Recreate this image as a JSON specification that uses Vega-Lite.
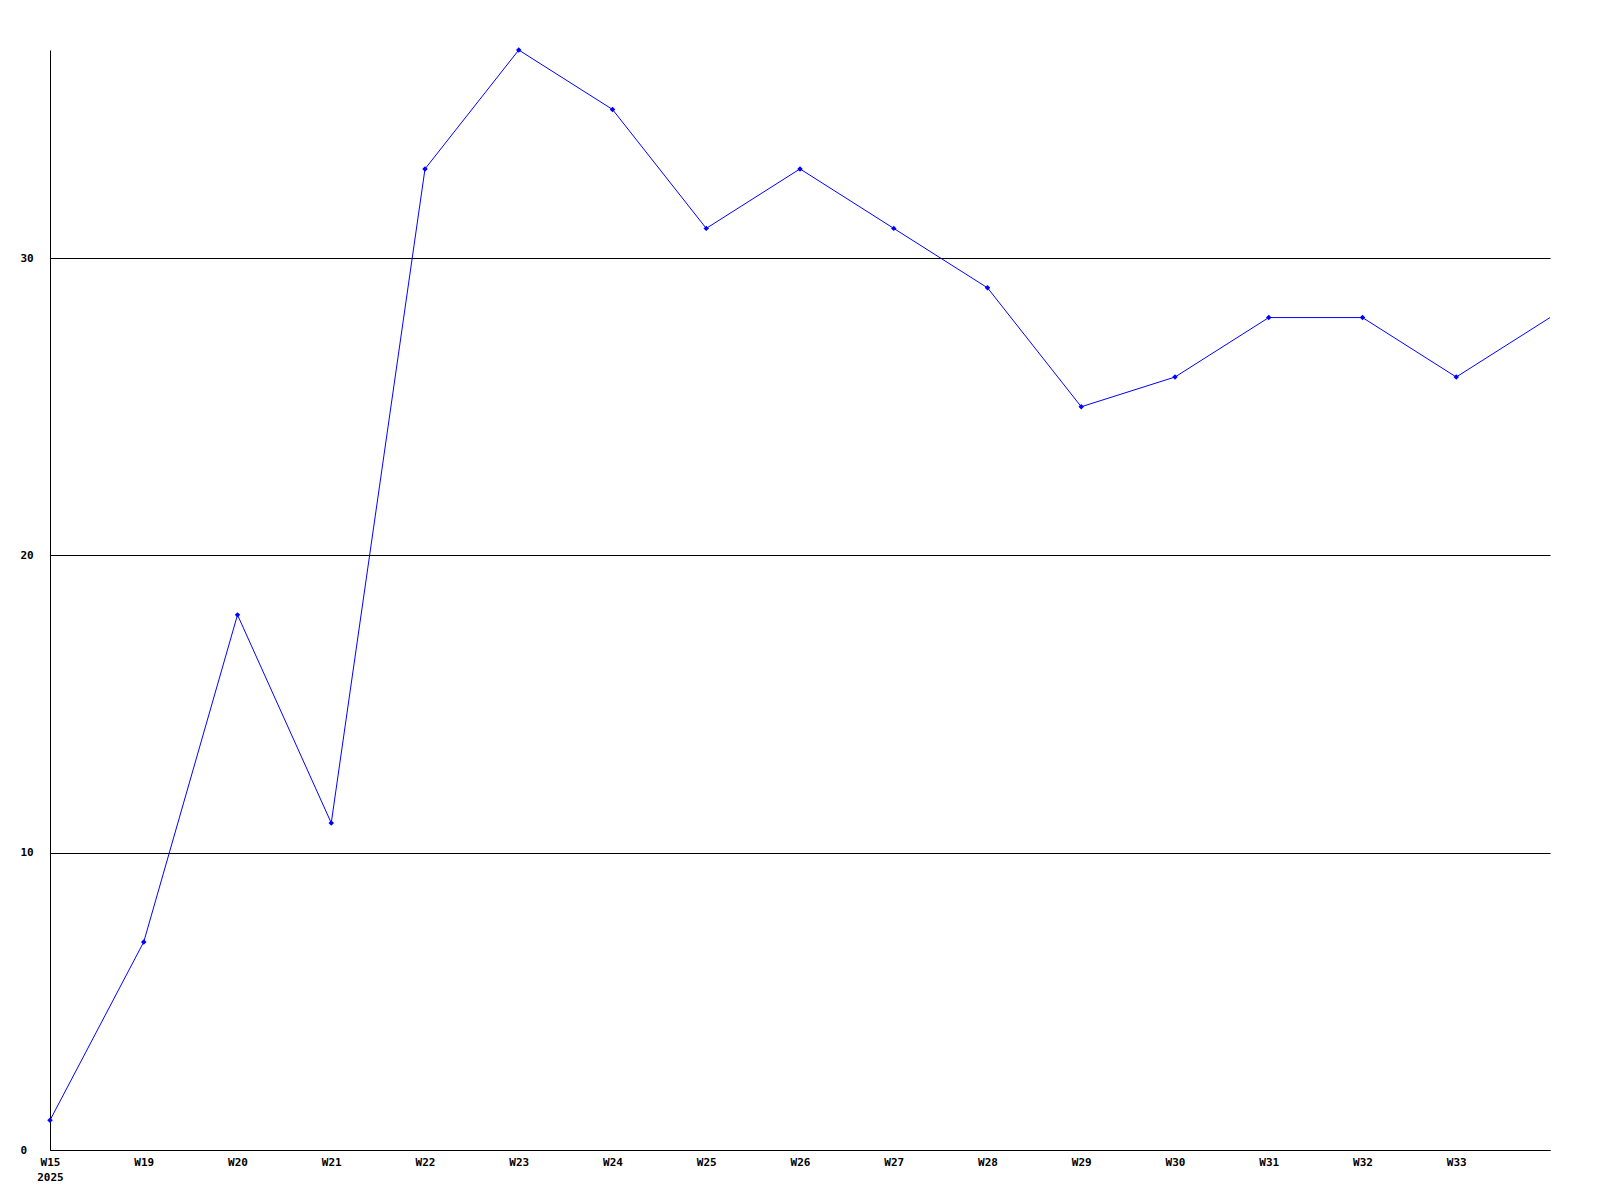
{
  "$schema": "https://vega.github.io/schema/vega-lite/v6.json",
  "width": 1500,
  "height": 1100,
  "autosize": {"type": "none"},
  "padding": {"left": 50, "top": 50, "right": 50, "bottom": 50},
  "background": "white",
  "config": {"view": {"stroke": null}},
  "data": {"values": [
    {"week": "W15", "value": 1},
    {"week": "W19", "value": 7},
    {"week": "W20", "value": 18},
    {"week": "W21", "value": 11},
    {"week": "W22", "value": 33},
    {"week": "W23", "value": 37},
    {"week": "W24", "value": 35},
    {"week": "W25", "value": 31},
    {"week": "W26", "value": 33},
    {"week": "W27", "value": 31},
    {"week": "W28", "value": 29},
    {"week": "W29", "value": 25},
    {"week": "W30", "value": 26},
    {"week": "W31", "value": 28},
    {"week": "W32", "value": 28},
    {"week": "W33", "value": 26},
    {"week": "W34", "value": 28}
  ]},
  "encoding": {
    "x": {"field": "week", "type": "ordinal", "sort": null,
      "scale": {"type": "point", "padding": 0},
      "axis": {"title": null, "grid": false, "ticks": false, "tickSize": 0, "labelAngle": 0,
        "labelExpr": "datum.value == 'W34' ? '' : (datum.value == 'W15' ? ['W15', '2025'] : datum.value)",
        "labelFont": "DejaVu Sans Mono", "labelFontWeight": "bold", "labelFontSize": 11,
        "labelLineHeight": 15,
        "labelColor": "black", "labelPadding": 6, "domainColor": "black", "domainWidth": 1,
        "labelOverlap": false, "labelBound": false, "labelFlush": false}},
    "y": {"field": "value", "type": "quantitative",
      "scale": {"domain": [0, 37], "nice": false, "zero": true},
      "axis": {"title": null, "values": [0, 10, 20, 30], "grid": true, "gridColor": "black", "gridOpacity": 1, "gridWidth": 1,
        "ticks": false, "tickSize": 0, "labelAlign": "left", "labelPadding": 30,
        "labelFont": "DejaVu Sans Mono", "labelFontWeight": "bold", "labelFontSize": 11,
        "labelColor": "black", "domainColor": "black", "domainWidth": 1, "labelBaseline": "middle"}}
  },
  "layer": [
    {"mark": {"type": "line", "color": "#0000ff", "strokeWidth": 1}},
    {"transform": [{"filter": "datum.week != 'W34'"}],
     "mark": {"type": "point", "shape": "diamond", "filled": true, "color": "#0000ff", "size": 30, "opacity": 1}}
  ]
}
